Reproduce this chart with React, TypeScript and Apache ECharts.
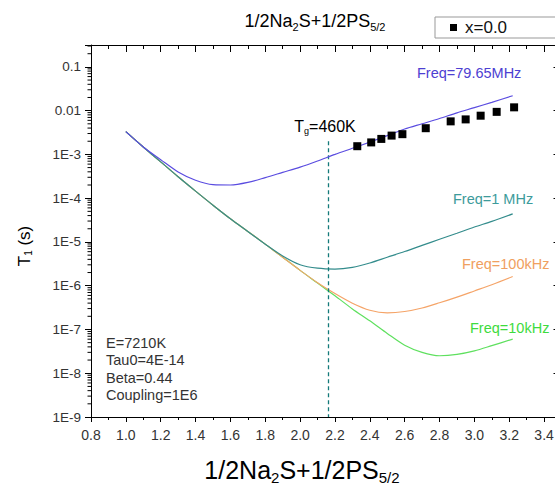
import React, { useEffect, useRef } from 'react';
import * as echarts from 'echarts';

// Model curves (x = 1000/T, T1 in s)
const curveX = [1.0, 1.1, 1.2, 1.3, 1.4, 1.5, 1.6, 1.7, 1.8, 1.9, 2.0, 2.1, 2.2, 2.3, 2.4, 2.5, 2.6, 2.7, 2.8, 2.9, 3.0, 3.1, 3.22];
const t1Freq7965MHz = [3.31e-3, 1.48e-3, 7.59e-4, 3.98e-4, 2.57e-4, 2.04e-4, 2.0e-4, 2.29e-4, 2.95e-4, 3.89e-4, 5.13e-4, 7.08e-4, 1.0e-3, 1.38e-3, 1.91e-3, 2.69e-3, 3.8e-3, 5.01e-3, 6.61e-3, 8.91e-3, 1.17e-2, 1.55e-2, 2.19e-2];
const t1Freq1MHz = [3.31e-3, 1.48e-3, 6.76e-4, 3.09e-4, 1.45e-4, 6.92e-5, 3.39e-5, 1.74e-5, 8.91e-6, 4.79e-6, 3.02e-6, 2.51e-6, 2.4e-6, 2.63e-6, 3.31e-6, 4.47e-6, 6.03e-6, 8.32e-6, 1.15e-5, 1.58e-5, 2.19e-5, 2.95e-5, 4.37e-5];
const t1Freq100kHz = [3.31e-3, 1.48e-3, 6.76e-4, 3.09e-4, 1.45e-4, 6.92e-5, 3.39e-5, 1.74e-5, 8.91e-6, 4.47e-6, 2.24e-6, 1.17e-6, 6.61e-7, 3.98e-7, 2.75e-7, 2.4e-7, 2.57e-7, 3.09e-7, 4.07e-7, 5.5e-7, 7.59e-7, 1.05e-6, 1.62e-6];
const t1Freq10kHz = [3.31e-3, 1.48e-3, 6.76e-4, 3.09e-4, 1.45e-4, 6.92e-5, 3.39e-5, 1.74e-5, 8.91e-6, 4.47e-6, 2.24e-6, 1.15e-6, 5.89e-7, 2.95e-7, 1.58e-7, 8.13e-8, 4.37e-8, 3.0e-8, 2.51e-8, 2.69e-8, 3.24e-8, 4.27e-8, 6.03e-8];

// Measured points (x=0.0)
const expX = [2.328, 2.408, 2.466, 2.525, 2.587, 2.721, 2.864, 2.95, 3.036, 3.128, 3.228];
const expT1 = [1.54e-3, 1.88e-3, 2.26e-3, 2.69e-3, 2.9e-3, 3.97e-3, 5.69e-3, 6.31e-3, 7.67e-3, 9.38e-3, 1.19e-2];

// Tg marker
const tgX = 2.16;
const tgTop = 2.0e-3;
const tgBottom = 1e-9;

const X_MIN = 0.8;
const X_MAX = 3.5;
const Y_MIN = 1e-9;
const Y_MAX = Math.pow(10, -0.5);

const FONT = '"Liberation Sans", Arial, sans-serif';

const pairs = (xs: number[], ys: number[]) => xs.map((x, i) => [x, ys[i]]);

const minorTicks: number[][] = [];
for (let e = -9; e <= -1; e++) {
  for (let k = 2; k <= 9; k++) {
    const v = k * Math.pow(10, e);
    if (v < Y_MAX) minorTicks.push([X_MIN, v]);
  }
}

const yLabel = (v: number) => {
  const l = Math.log10(v);
  const e = Math.round(l);
  if (Math.abs(l - e) > 0.01) return '';
  if (e === -1) return '0.1';
  if (e === -2) return '0.01';
  return '1E' + e;
};

export default function App() {
  const ref = useRef<HTMLDivElement>(null);
  useEffect(() => {
    if (!ref.current) return;
    const chart = echarts.init(ref.current, undefined, { renderer: 'svg' });
    const lineStyleFor = (color: string) => ({ color, width: 1.2 });
    const subRich = (size: number, subSize: number, pad: number) => ({
      a: { fontSize: size, fontFamily: FONT, color: '#111' },
      s: { fontSize: subSize, fontFamily: FONT, color: '#111', padding: [pad, 0, 0, 0] },
    });
    chart.setOption({
      animation: false,
      textStyle: { fontFamily: FONT },
      grid: { left: 91, top: 45, right: 13.5, bottom: 83 },
      legend: {
        data: ['x=0.0'],
        left: 435,
        top: 17,
        icon: 'rect',
        itemWidth: 7,
        itemHeight: 7,
        padding: [2, 60, 2, 15],
        borderColor: '#999',
        borderWidth: 1,
        textStyle: { fontSize: 17, color: '#111', fontFamily: FONT, padding: [0, 0, 0, 3] },
      },
      xAxis: [
        {
          type: 'value',
          position: 'bottom',
          min: X_MIN,
          max: X_MAX,
          interval: 0.2,
          axisLine: { lineStyle: { color: '#000', width: 1 } },
          axisTick: { inside: false, length: 5, lineStyle: { color: '#000' } },
          minorTick: { show: true, splitNumber: 2, length: 3, lineStyle: { color: '#000' } },
          axisLabel: {
            margin: 11,
            fontSize: 14,
            color: '#333',
            formatter: (v: number) => (v > 3.45 ? '' : v.toFixed(1)),
          },
          splitLine: { show: false },
        },
        {
          type: 'value',
          position: 'top',
          min: X_MIN,
          max: X_MAX,
          interval: 0.2,
          axisLine: { lineStyle: { color: '#000', width: 1 } },
          axisTick: { inside: true, length: 7, lineStyle: { color: '#000' } },
          minorTick: { show: true, splitNumber: 2, length: 4, lineStyle: { color: '#000' } },
          axisLabel: { show: false },
          splitLine: { show: false },
        },
      ],
      yAxis: [
        {
          type: 'log',
          logBase: 10,
          position: 'left',
          min: Y_MIN,
          max: Y_MAX,
          axisLine: { show: true, lineStyle: { color: '#000', width: 1 } },
          axisTick: { show: true, inside: false, length: 6, lineStyle: { color: '#000' } },
          axisLabel: { margin: 10, fontSize: 13.5, color: '#333', formatter: yLabel },
          splitLine: { show: false },
        },
        {
          type: 'log',
          logBase: 10,
          position: 'right',
          min: Y_MIN,
          max: Y_MAX,
          axisLine: { show: true, lineStyle: { color: '#000', width: 1 } },
          axisTick: { show: true, inside: true, length: 8, lineStyle: { color: '#000' } },
          axisLabel: { show: false },
          splitLine: { show: false },
        },
      ],
      series: [
        {
          name: 'Freq=10kHz',
          type: 'line',
          data: pairs(curveX, t1Freq10kHz),
          showSymbol: false,
          smooth: 0.3,
          lineStyle: lineStyleFor('#5fe05f'),
          z: 2,
        },
        {
          name: 'Freq=100kHz',
          type: 'line',
          data: pairs(curveX, t1Freq100kHz),
          showSymbol: false,
          smooth: 0.3,
          lineStyle: lineStyleFor('#f5a468'),
          z: 3,
        },
        {
          name: 'Freq=1 MHz',
          type: 'line',
          data: pairs(curveX, t1Freq1MHz),
          showSymbol: false,
          smooth: 0.3,
          lineStyle: lineStyleFor('#338c8c'),
          z: 4,
        },
        {
          name: 'Freq=79.65MHz',
          type: 'line',
          data: pairs(curveX, t1Freq7965MHz),
          showSymbol: false,
          smooth: 0.3,
          lineStyle: lineStyleFor('#5a4ce0'),
          z: 5,
          markLine: {
            silent: true,
            symbol: 'none',
            label: { show: false },
            lineStyle: { color: '#147a7a', type: [4, 3], width: 1.3 },
            data: [[{ coord: [tgX, tgTop] }, { coord: [tgX, tgBottom] }]],
          },
        },
        {
          name: 'x=0.0',
          type: 'scatter',
          data: pairs(expX, expT1),
          symbol: 'rect',
          symbolSize: 8,
          itemStyle: { color: '#000', opacity: 1 },
          z: 6,
        },
        {
          name: 'minorTicks',
          type: 'custom',
          silent: true,
          clip: false,
          data: minorTicks,
          renderItem: (params: any, api: any) => {
            const p = api.coord([api.value(0), api.value(1)]);
            return {
              type: 'line',
              shape: { x1: p[0] - 3.5, y1: p[1], x2: p[0], y2: p[1] },
              style: { stroke: '#000', lineWidth: 1 },
            };
          },
          z: 7,
        },
      ],
      graphic: [
        {
          type: 'text',
          x: 315,
          y: 21,
          style: {
            text: '{a|1/2Na}{s|2}{a|S+1/2PS}{s|5/2}',
            rich: subRich(18, 11, 11),
            align: 'center',
            verticalAlign: 'middle',
          },
        },
        {
          type: 'text',
          x: 302,
          y: 470,
          style: {
            text: '{a|1/2Na}{s|2}{a|S+1/2PS}{s|5/2}',
            rich: subRich(25, 15, 14),
            align: 'center',
            verticalAlign: 'middle',
          },
        },
        {
          type: 'text',
          x: 24,
          y: 246,
          rotation: Math.PI / 2,
          style: {
            text: '{a|T}{s|1}{a| (s)}',
            rich: subRich(17, 10, 9),
            align: 'center',
            verticalAlign: 'middle',
          },
        },
        {
          type: 'text',
          x: 325,
          y: 126,
          style: {
            text: '{a|T}{s|g}{a|=460K}',
            rich: subRich(16, 9, 10),
            align: 'center',
            verticalAlign: 'middle',
          },
        },
        {
          type: 'text',
          x: 417,
          y: 73,
          style: { text: 'Freq=79.65MHz', fill: '#4d40d2', fontSize: 14.5, fontFamily: FONT, verticalAlign: 'middle' },
        },
        {
          type: 'text',
          x: 453,
          y: 199,
          style: { text: 'Freq=1 MHz', fill: '#3d9b9b', fontSize: 14.5, fontFamily: FONT, verticalAlign: 'middle' },
        },
        {
          type: 'text',
          x: 462,
          y: 264,
          style: { text: 'Freq=100kHz', fill: '#f0a060', fontSize: 14.5, fontFamily: FONT, verticalAlign: 'middle' },
        },
        {
          type: 'text',
          x: 470,
          y: 328,
          style: { text: 'Freq=10kHz', fill: '#3edb3e', fontSize: 14.5, fontFamily: FONT, verticalAlign: 'middle' },
        },
        {
          type: 'text',
          x: 106,
          y: 334,
          style: {
            text: 'E=7210K\nTau0=4E-14\nBeta=0.44\nCoupling=1E6',
            fill: '#333',
            fontSize: 14.5,
            lineHeight: 17.5,
            fontFamily: FONT,
            verticalAlign: 'top',
          },
        },
      ],
    });
    return () => chart.dispose();
  }, []);
  return (
    <div style={{ position: 'fixed', left: 0, top: 0, width: 555, height: 500, overflow: 'hidden', background: '#fff' }}>
      <div ref={ref} style={{ width: 575, height: 500 }} />
    </div>
  );
}
